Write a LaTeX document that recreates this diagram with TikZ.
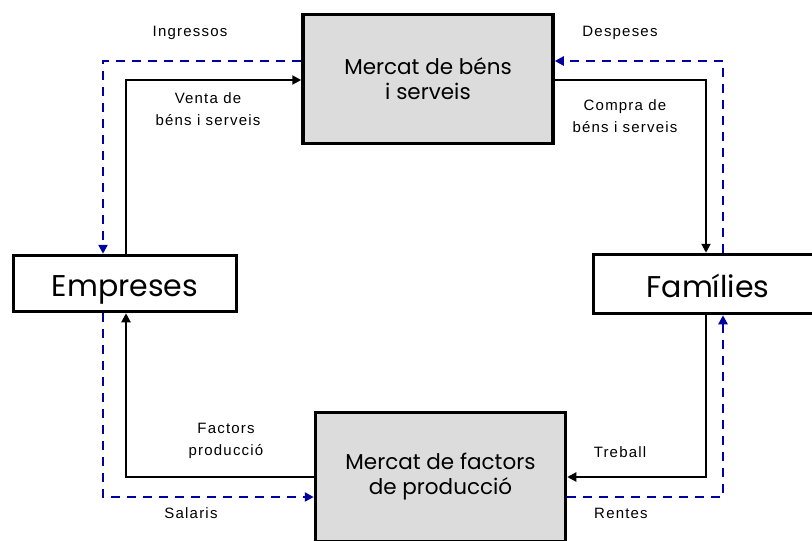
\documentclass[tikz,border=0pt]{standalone}
\usepackage{fontspec}
\setmainfont{Liberation Sans}
\newfontfamily\boxfont{Poppins}
\newfontfamily\labelfont[LetterSpace=8]{Liberation Sans}
\usetikzlibrary{arrows.meta,calc}

\definecolor{flowblue}{RGB}{0,0,160}
\definecolor{boxgray}{RGB}{220,220,220}

\begin{document}
\begin{tikzpicture}[x=1pt,y=-1pt,
  market/.style={draw=black, line width=3.5pt, fill=boxgray, inner sep=0pt,
    align=center, minimum width=250pt, minimum height=129pt,
    font=\boxfont\fontsize{21.5}{25}\selectfont},
  agent/.style={draw=black, line width=3.5pt, fill=white, inner sep=0pt,
    text height=28pt, text depth=2pt,
    font=\boxfont\fontsize{30}{32}\selectfont},
  goods/.style={draw=black, line width=2pt, -{Triangle[length=9pt,width=9pt]}},
  money/.style={draw=flowblue, line width=2.5pt, dash pattern=on 9pt off 7pt,
    -{Triangle[length=9pt,width=9pt]}},
  lbl/.style={font=\labelfont\fontsize{15}{22}\selectfont, align=center, inner sep=0pt},
]
\useasboundingbox (0,0) rectangle (812,541);
\clip (0,0) rectangle (812,541);
\fill[white] (0,0) rectangle (812,541);

% markets and agents
\node[market] (mb) at (428,79) {Mercat de béns\\i serveis};
\node[market] (mf) at (440.5,477) {Mercat de factors\\de producció};
\node[agent, minimum width=223pt, minimum height=56pt] (emp) at (125,283.5) {Empreses};
\node[agent, minimum width=229pt, minimum height=59pt] (fam) at (708,284) {Famílies};

% corners of the flows
\coordinate (vL) at (126,80);
\coordinate (iL) at (103,61);
\coordinate (cR) at (706,80);
\coordinate (dR) at (723,61);
\coordinate (tR) at (706,477);
\coordinate (rR) at (723,497);
\coordinate (fL) at (126,477);
\coordinate (sL) at (103,497);

% real flows
\draw[goods] (vL |- emp.north) -- (vL) -- (vL -| mb.west);
\draw[goods] (mb.east |- cR) -- (cR) -- (cR |- fam.north);
\draw[goods] (tR |- fam.south) -- (tR) -- (tR -| mf.east);
\draw[goods] (mf.west |- fL) -- (fL) -- (fL |- emp.south);

% money flows
\draw[money] (mb.west |- iL) -- (iL) -- (iL |- emp.north);
\draw[money] (dR |- fam.north) -- (dR) -- (dR -| mb.east);
\draw[money] (sL |- emp.south) -- (sL) -- (sL -| mf.west);
\draw[money] (mf.east |- rR) -- (rR) -- (rR |- fam.south);

% flow labels
\node[lbl] (ingressos) at (190,33) {Ingressos};
\node[lbl] (venta) at (208,109) {Venta de\\béns i serveis};
\node[lbl] (despeses) at (620,33) {Despeses};
\node[lbl] (compra) at (625,116) {Compra de\\béns i serveis};
\node[lbl] (factors) at (226,441) {Factors\\producció};
\node[lbl] (salaris) at (191,513) {Salaris};
\node[lbl] (treball) at (620,452) {Treball};
\node[lbl] (rentes) at (621,513) {Rentes};
\end{tikzpicture}
\end{document}
